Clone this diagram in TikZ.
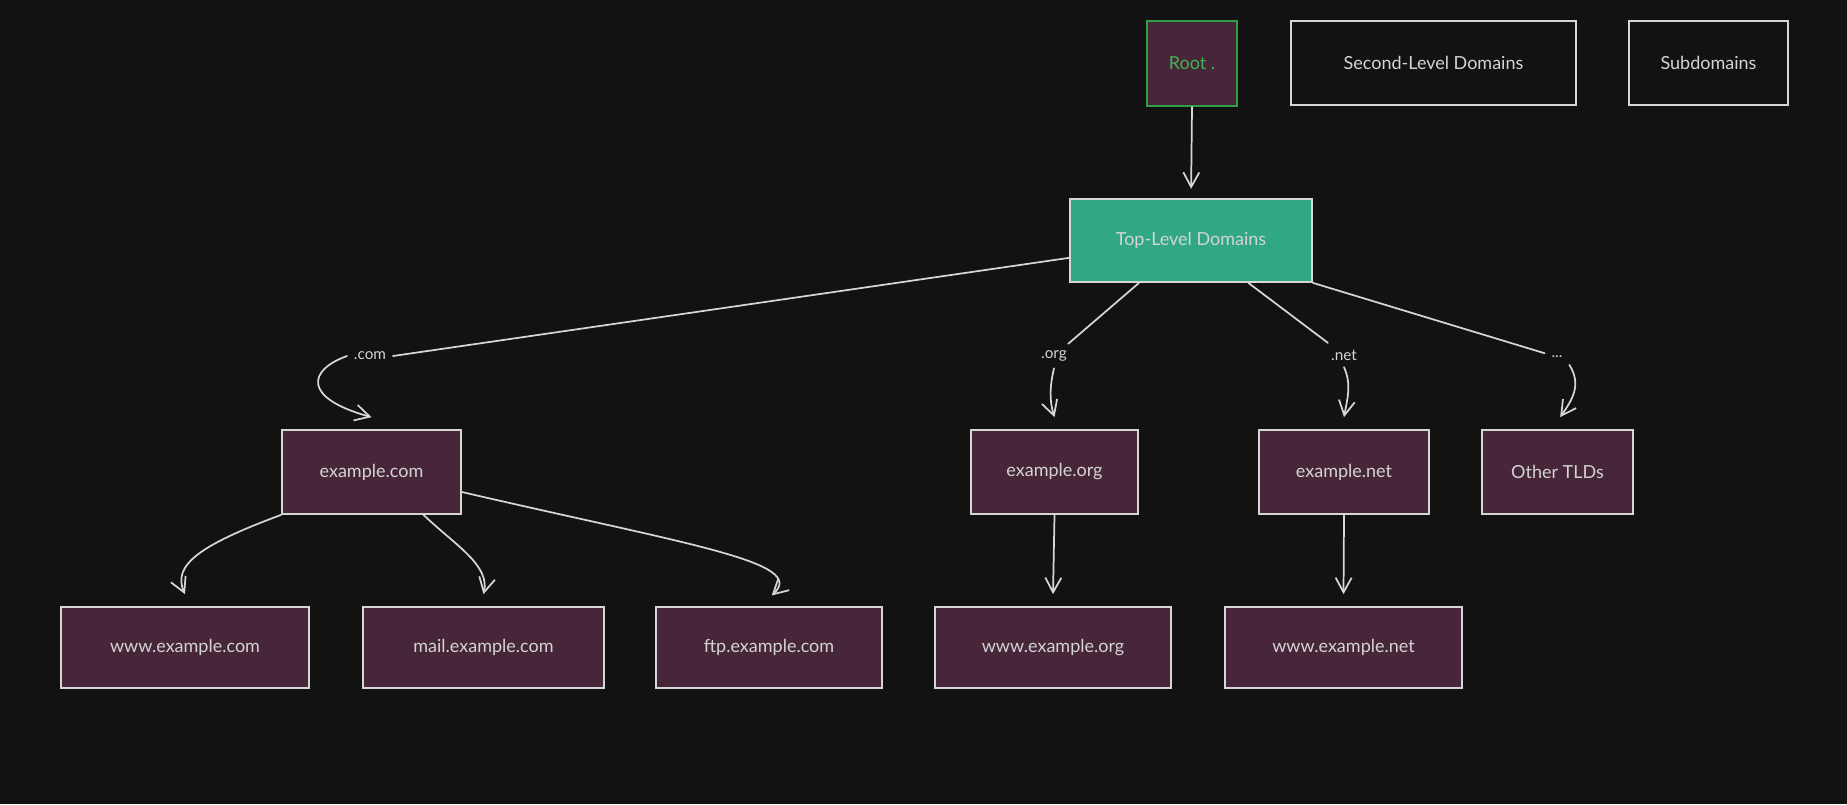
\documentclass[tikz,border=0pt]{standalone}
\usepackage{fontspec}
\setmainfont{Lato}
\usepackage{tikz}
\usetikzlibrary{arrows.meta}

\tikzset{
  plainbox/.style={draw={rgb, 255:red, 214; green, 214; blue, 214}, line width=1.3pt, inner sep=0pt,
    text={rgb, 255:red, 212; green, 212; blue, 212}, font=\fontsize{13.5}{16}\selectfont},
  box/.style={plainbox, fill={rgb, 255:red, 70; green, 38; blue, 56}},
  legendbox/.style={plainbox, fill={rgb, 255:red, 18; green, 18; blue, 18}, minimum height=63pt},
  tldbox/.style={plainbox, fill={rgb, 255:red, 48; green, 168; blue, 134}},
  rootbox/.style={box, draw={rgb, 255:red, 47; green, 158; blue, 68}, text={rgb, 255:red, 64; green, 178; blue, 84}},
  edgelabel/.style={inner sep=5pt, text={rgb, 255:red, 212; green, 212; blue, 212}, font=\fontsize{11.5}{13}\selectfont},
  link/.style={draw={rgb, 255:red, 214; green, 214; blue, 214}, line width=1.3pt, line cap=round},
  arr/.style={link, -{Straight Barb[length=11pt,width=12pt]}},
}

\begin{document}
\begin{tikzpicture}[x=0.75pt,y=0.75pt,yscale=-1,xscale=1]
%set diagram to 1847 x 804
\fill [color={rgb, 255:red, 18; green, 18; blue, 18 }] (0,0) rectangle (1847,804);
\useasboundingbox (0,0) rectangle (1847,804);

% Root and legend
\draw (1192,63.5) node [rootbox, minimum width=67.5pt, minimum height=63.75pt] (root) {Root .};
\draw (1433.5,63) node [legendbox, minimum width=213.75pt] (sldlegend) {Second-Level Domains};
\draw (1708.5,63) node [legendbox, minimum width=119.25pt] (sublegend) {Subdomains};

% Top level
\draw (1191,240.5) node [tldbox, minimum width=181.5pt, minimum height=62.25pt] (tld) {Top-Level Domains};

% Second level
\draw (371.5,472) node [box, minimum width=134.25pt, minimum height=63pt] (excom) {example.com};
\draw (1054.5,472) node [box, minimum width=125.25pt, minimum height=63pt] (exorg) {example.org};
\draw (1344,472) node [box, minimum width=127.5pt, minimum height=63pt] (exnet) {example.net};
\draw (1557.5,472) node [box, minimum width=113.25pt, minimum height=63pt] (other) {Other TLDs};

% Subdomains
\draw (185,647.5) node [box, minimum width=186pt, minimum height=60.75pt] (wwwcom) {www.example.com};
\draw (483.5,647.5) node [box, minimum width=180.75pt, minimum height=60.75pt] (mailcom) {mail.example.com};
\draw (769,647.5) node [box, minimum width=169.5pt, minimum height=60.75pt] (ftpcom) {ftp.example.com};
\draw (1053,647.5) node [box, minimum width=177pt, minimum height=60.75pt] (wwworg) {www.example.org};
\draw (1343.5,647.5) node [box, minimum width=177.75pt, minimum height=60.75pt] (wwwnet) {www.example.net};

% Text Node
\draw (370,356) node [edgelabel] (lcom) {.com};
% Text Node
\draw (1054,356) node [edgelabel] (lorg) {.org};
% Text Node
\draw (1344,355) node [edgelabel] (lnet) {.net};
% Text Node
\draw (1557,357) node [edgelabel] (ldots) {...};

% Root to TLD
\draw [arr, shorten >=7pt] (root.south) -- (tld.north);

% TLD to second level
\draw [link] ([yshift=13pt]tld.west) -- (lcom.east);
\draw [arr] (lcom.west) .. controls (308,370) and (302,398) .. ([yshift=-9pt]excom.north);
\draw [link] ([xshift=-39pt]tld.south) -- (lorg);
\draw [arr] (lorg.south) .. controls (1050,385) and (1049,400) .. ([yshift=-9pt]exorg.north);
\draw [link] ([xshift=43pt]tld.south) -- (lnet);
\draw [arr] (lnet.south) .. controls (1352,385) and (1347,400) .. ([yshift=-9pt]exnet.north);
\draw [link] (tld.south east) -- (ldots);
\draw [arr] (ldots.south east) .. controls (1582,385) and (1572,400) .. ([xshift=2pt,yshift=-9pt]other.north);

% Second level to subdomains
\draw [arr] (excom.south west) .. controls (200,545) and (172,565) .. ([yshift=-9pt]wwwcom.north);
\draw [arr] ([xshift=39pt]excom.south) .. controls (455,545) and (490,565) .. ([yshift=-9pt]mailcom.north);
\draw [arr] ([yshift=15pt]excom.east) .. controls (690,545) and (808,562) .. ([xshift=2pt,yshift=-8pt]ftpcom.north);
\draw [arr] (exorg.south) -- ([yshift=-9pt]wwworg.north);
\draw [arr] (exnet.south) -- ([yshift=-9pt]wwwnet.north);

\end{tikzpicture}
\end{document}
